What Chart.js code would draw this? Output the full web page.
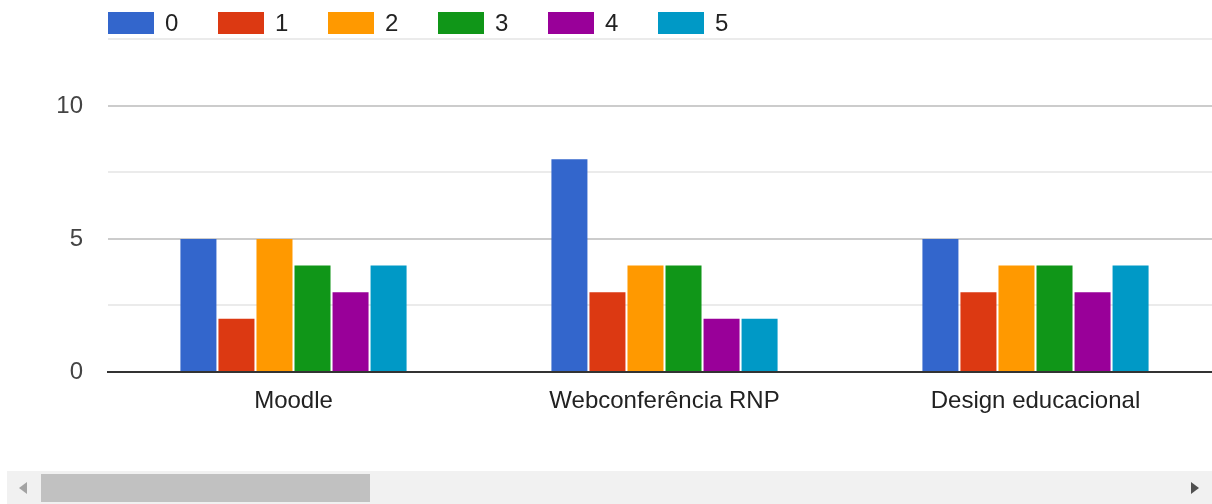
<!DOCTYPE html>
<html>
<head>
<meta charset="utf-8">
<script src="https://cdn.jsdelivr.net/npm/chart.js@4.4.0/dist/chart.umd.min.js"></script>
<style>
  body { margin: 0; background: #fff; font-family: "Liberation Sans", Arial, sans-serif; }
  #wrap { position: relative; width: 1212px; height: 504px; overflow: hidden; }
  #plot { position: absolute; left: -1px; top: 0; width: 1222px; height: 470px; }
  #legend { position: absolute; left: 108px; top: 12px; display: flex; }
  #legend .item { width: 110px; display: flex; align-items: center; height: 22px; }
  #legend .box { width: 46px; height: 22px; margin-right: 11px; }
  #legend .txt { font-size: 24px; color: #222; line-height: 22px; }
  #bar { position: absolute; left: 7px; top: 471px; width: 1205px; height: 33px; background: #f1f1f1; }
  #thumb { position: absolute; left: 34px; top: 3px; width: 329px; height: 28px; background: #c1c1c1; }
  .arrow { position: absolute; top: 11px; width: 0; height: 0; border-top: 6px solid transparent; border-bottom: 6px solid transparent; }
  #aleft { left: 12px; border-right: 8px solid #a3a3a3; }
  #aright { right: 13px; border-left: 8px solid #505050; }
</style>
</head>
<body>
<div id="wrap">
  <div id="plot"><canvas id="tools_chart"></canvas></div>
  <div id="legend"></div>
  <div id="bar"><div class="arrow" id="aleft"></div><div id="thumb"></div><div class="arrow" id="aright"></div></div>
</div>
<script>
const categories = ['Moodle', 'Webconferência RNP', 'Design educacional'];
const seriesNames = ['0', '1', '2', '3', '4', '5'];
const s0 = [5, 8, 5];
const s1 = [2, 3, 3];
const s2 = [5, 4, 4];
const s3 = [4, 4, 4];
const s4 = [3, 2, 3];
const s5 = [4, 2, 4];
const colors = ['#3366cc', '#dc3912', '#ff9900', '#109618', '#990099', '#0099c6'];

const htmlLegend = {
    id: 'htmlLegend',
    afterUpdate(chart) {
        const box = document.getElementById('legend');
        box.innerHTML = '';
        chart.data.datasets.forEach(function (ds) {
            const item = document.createElement('div');
            item.className = 'item';
            const sw = document.createElement('div');
            sw.className = 'box';
            sw.style.background = ds.backgroundColor;
            const t = document.createElement('span');
            t.className = 'txt';
            t.textContent = ds.label;
            item.appendChild(sw);
            item.appendChild(t);
            box.appendChild(item);
        });
    }
};

(function tools_chart()
{
    const sample = document.getElementById('tools_chart');
    const values = [s0, s1, s2, s3, s4, s5];
    const myChart = new Chart(sample, {
        type: 'bar',
        data: {
            labels: categories,
            datasets: seriesNames.map(function (name, i) {
                return {
                    label: name,
                    data: values[i],
                    backgroundColor: colors[i],
                    barPercentage: 0.947,
                    categoryPercentage: 0.615
                };
            })
        },
        options: {
            responsive: true,
            maintainAspectRatio: false,
            animation: false,
            layout: { padding: { top: 38, left: 0, right: 0, bottom: 0 } },
            plugins: {
                legend: { display: false },
                tooltip: { enabled: false }
            },
            scales: {
                x: {
                    grid: { display: false, drawTicks: false },
                    border: { display: true, color: '#333', width: 2 },
                    ticks: {
                        color: '#222',
                        padding: 15,
                        font: { family: '"Liberation Sans", Arial', size: 24 }
                    },
                    afterFit: function (scale) { scale.height = 98; }
                },
                y: {
                    min: 0,
                    max: 12.5,
                    border: { display: false },
                    grid: {
                        drawTicks: false,
                        lineWidth: 2,
                        color: function (c) {
                            if (c.tick.value === 0) return 'rgba(0,0,0,0)';
                            return c.tick.value % 5 === 0 ? '#cccccc' : '#ebebeb';
                        }
                    },
                    ticks: {
                        stepSize: 2.5,
                        color: '#444',
                        padding: 25,
                        font: { family: '"Liberation Sans", Arial', size: 24 },
                        callback: function (v) { return v % 5 === 0 ? v : ''; }
                    },
                    afterFit: function (scale) { scale.width = 109; }
                }
            }
        },
        plugins: [htmlLegend]
    });
})();
</script>
</body>
</html>
